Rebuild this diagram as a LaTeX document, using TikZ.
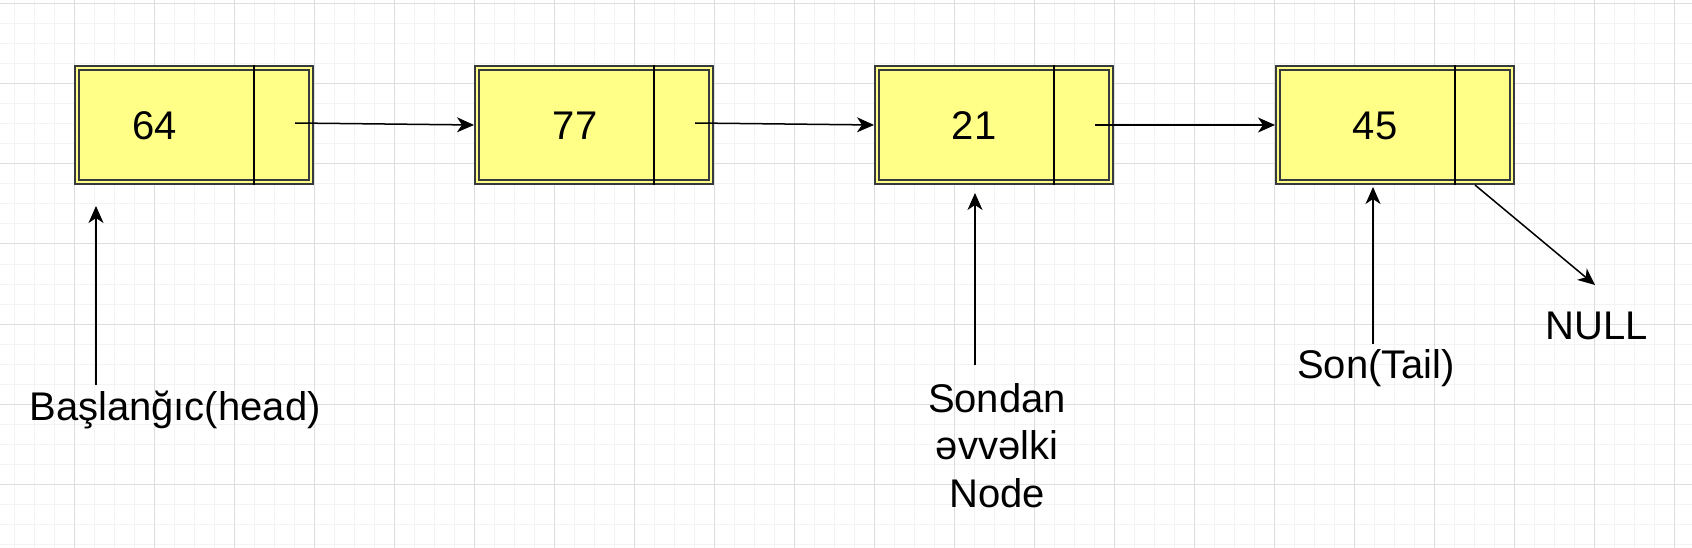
\documentclass[tikz,border=0pt]{standalone}
\usepackage{fontspec}
\setmainfont{Liberation Sans}
\usetikzlibrary{arrows.meta}
\definecolor{gridmajor}{HTML}{DDDDDD}
\definecolor{gridminor}{HTML}{F3F3F3}
\definecolor{cellfill}{HTML}{FFFF88}
\definecolor{cellline}{HTML}{36393D}
\tikzset{
  cellbox/.style={draw=cellline, double=cellfill, double distance=2pt, line width=2pt,
    fill=cellfill, minimum width=234pt, minimum height=114pt, inner sep=0pt, outer sep=0pt},
  arr/.style={-{Stealth[length=17pt,width=15pt,inset=5pt]}, line width=1.5pt, black},
  lbl/.style={font=\fontsize{40}{47.5}\selectfont, inner sep=0pt, anchor=base, align=center},
  divider/.style={line width=1.6pt, black}
}
\begin{document}
\begin{tikzpicture}[x=1pt,y=-1pt]
\useasboundingbox (0,0) rectangle (1692,548);
\fill[white] (0,0) rectangle (1692,548);
% grid
\foreach \x in {14,34,...,1692} \draw[gridminor, line width=1pt] (\x,0) -- (\x,548);
\foreach \y in {4,24,...,548} \draw[gridminor, line width=1pt] (0,\y) -- (1692,\y);
\foreach \x in {74,154,...,1692} \draw[gridmajor, line width=1pt] (\x,0) -- (\x,548);
\foreach \y in {4,84,...,548} \draw[gridmajor, line width=1pt] (0,\y) -- (1692,\y);
% nodes
\foreach \i/\cx in {1/194,2/594,3/994,4/1395} {
  \node[cellbox] (n\i) at (\cx,125) {};
  \draw[divider] ([xshift=-57pt]n\i.north east) ++(0,-3) -- ([xshift=-57pt]n\i.south east) -- ++(0,3);
}
\node[lbl] (v1) at (155,140) {64};
\node[lbl] (v2) at (575,140) {77};
\node[lbl] (v3) at (974,140) {21};
\node[lbl] (v4) at (1375,140) {45};
% links
\coordinate (p1) at (295,123);
\coordinate (p2) at (695,123);
\coordinate (p3) at (1095,125);
\draw[arr] (p1) -- ([xshift=-3pt]n2.west);
\draw[arr] (p2) -- ([xshift=-3pt]n3.west);
\draw[arr] (p3) -- ([xshift=-3pt]n4.west);
% NULL
\node[lbl] (null) at (1597,339) {NULL};
\coordinate (q4) at (1475,185);
\coordinate (nt) at (1595,285);
\draw[arr] (q4) -- (nt);
% labels
\node[lbl] (head) at (175,420) {Başlanğıc(head)};
\coordinate (hs) at (96,385);
\coordinate (ht) at (96,206);
\draw[arr] (hs) -- (ht);
\node[lbl] (prev) at (997,507) {Sondan\\əvvəlki\\Node};
\coordinate (ps) at (975,365);
\coordinate (pt) at (975,193);
\draw[arr] (ps) -- (pt);
\node[lbl] (tail) at (1376,378) {Son(Tail)};
\coordinate (ts) at (1373,344);
\coordinate (tt) at (1373,187);
\draw[arr] (ts) -- (tt);
\end{tikzpicture}
\end{document}
